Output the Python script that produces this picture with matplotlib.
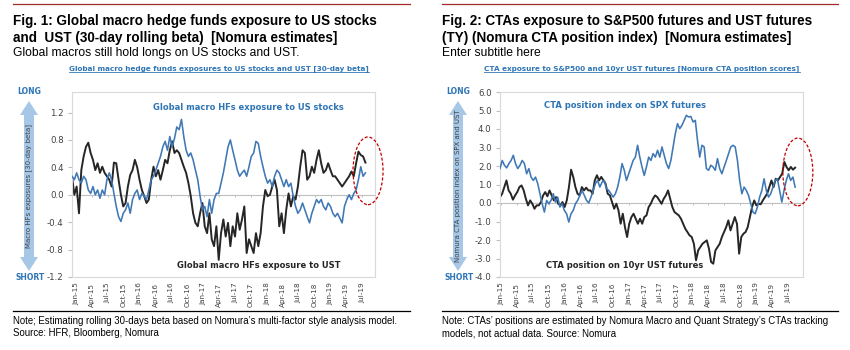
import matplotlib
matplotlib.use("Agg")
import matplotlib.pyplot as plt
import matplotlib.dates as mdates
from matplotlib.patches import Ellipse, Polygon
from matplotlib.lines import Line2D
import pandas as pd

W, H = 850, 350

# ---- data ----
left_stocks = [0.27, 0.22, 0.32, 0.22, 0.17, 0.27, 0.22, 0.07, 0.02, 0.12, 0.0, 0.07, -0.05, 0.07, 0.0,
               0.22, 0.32, 0.22, 0.02, -0.17, -0.32, -0.39, -0.27, -0.22, -0.12, -0.27, -0.07, 0.02, 0.07,
               -0.07, 0.02, -0.02, -0.07, 0.07, 0.22, 0.27, 0.36, 0.46, 0.56, 0.70, 0.78, 0.65, 0.85, 0.70,
               0.82, 0.99, 0.95, 1.10, 0.85, 0.65, 0.56, 0.61, 0.51, 0.36, 0.22, -0.02, -0.22, -0.17, -0.32,
               -0.07, -0.27, -0.07, 0.02, 0.02, 0.17, 0.32, 0.51, 0.70, 0.80, 0.65, 0.51, 0.36, 0.27, 0.32,
               0.36, 0.27, 0.41, 0.56, 0.61, 0.78, 0.75, 0.56, 0.41, 0.27, 0.17, 0.22, 0.12, 0.27, 0.36,
               0.32, 0.22, 0.12, 0.22, 0.12, 0.17, -0.02, -0.17, -0.27, -0.22, -0.12, -0.22, -0.32, -0.41,
               -0.27, -0.17, -0.07, -0.12, -0.07, -0.17, -0.22, -0.12, -0.17, -0.27, -0.32, -0.27, -0.34,
               -0.41, -0.17, -0.07, 0.0, -0.07, 0.02, 0.07, 0.22, 0.41, 0.27, 0.32]
left_ust = [0.27, 0.0, 0.12, -0.27, 0.36, 0.56, 0.70, 0.76, 0.61, 0.51, 0.36, 0.46, 0.32, 0.41, 0.32, 0.27,
            0.22, 0.12, 0.47, 0.46, 0.22, 0.0, -0.17, -0.12, 0.12, 0.29, 0.36, 0.51, 0.40, 0.22, 0.07, -0.02,
            -0.12, -0.07, 0.22, 0.41, 0.27, 0.36, 0.22, 0.36, 0.51, 0.46, 0.65, 0.78, 0.61, 0.65, 0.61, 0.51,
            0.41, 0.32, 0.17, -0.02, -0.27, -0.41, -0.46, -0.27, -0.12, -0.46, -0.56, -0.27, -0.65, -0.75,
            -0.46, -0.95, -0.56, -0.36, -0.61, -0.41, -0.75, -0.46, -0.61, -0.27, -0.51, -0.36, -0.17, -0.85,
            -0.65, -0.75, -0.85, -0.56, -0.75, -0.56, -0.17, 0.07, -0.02, 0.0, 0.12, 0.22, 0.07, -0.46, -0.27,
            -0.56, -0.22, 0.02, -0.17, -0.02, -0.07, 0.12, 0.41, 0.65, 0.61, 0.22, 0.27, 0.41, 0.32, 0.51,
            0.65, 0.46, 0.32, 0.36, 0.46, 0.36, 0.27, 0.27, 0.22, 0.17, 0.12, 0.17, 0.22, 0.27, 0.34, 0.27,
            0.46, 0.63, 0.58, 0.56, 0.47]
left_span = ("2014-12-08", "2019-07-19")

right_spx = [1.86, 2.3, 2.04, 1.9, 2.13, 2.3, 2.58, 2.13, 1.86, 2.04, 2.3, 2.13, 1.58, 1.86, 1.4, 1.22, 1.4,
             1.05, 0.5, -0.04, -0.49, 0.14, -0.04, 0.14, 0.5, 0.05, 0.32, -0.22, -0.04, -0.4, -0.58, -1.03,
             -0.58, -0.4, -0.04, 0.14, 0.41, 0.68, 0.41, 0.14, 0.0, 0.32, 0.68, 1.05, 1.22, 0.86, 1.13, 1.22,
             0.77, 0.68, 0.5, 0.32, 0.5, 0.86, 1.4, 2.13, 1.77, 1.22, 1.58, 1.95, 2.3, 2.48, 3.12, 2.48, 1.95,
             1.49, 1.95, 2.48, 2.3, 2.67, 2.48, 2.85, 2.48, 3.03, 2.57, 2.13, 1.86, 2.3, 3.03, 3.75, 4.29, 4.02,
             4.2, 4.47, 4.74, 4.65, 4.68, 4.38, 4.47, 3.39, 2.48, 3.12, 3.03, 1.86, 1.77, 2.04, 1.95, 1.77,
             2.4, 1.86, 1.58, 1.95, 2.3, 2.67, 3.03, 3.12, 3.03, 2.3, 1.22, 0.5, 0.86, 0.68, 0.41, -0.04,
             -0.49, -0.58, -0.22, 0.32, 0.68, 1.31, 0.68, 0.32, 0.5, 0.86, 1.22, 1.31, 0.68, 0.05, 0.68, 1.22,
             1.58, 1.22, 1.4, 0.86]
right_ust = [0.32, 0.5, 0.86, 1.22, 0.68, 0.5, 0.18, 0.41, 0.59, 0.86, 0.95, 0.68, 0.23, -0.13, 0.14, -0.04,
             -0.31, -0.13, -0.13, 0.05, 0.41, 0.59, 0.36, 0.68, 0.41, 0.14, 0.32, -0.04, -0.13, 0.05, -0.22,
             0.14, 0.86, 1.8, 1.41, 0.86, 0.5, 0.41, 0.86, 0.68, 0.83, 0.68, 0.68, 0.5, 1.22, 1.5, 1.22, 1.41,
             1.22, 1.05, 0.5, 0.41, 0.05, -0.31, -0.04, -0.4, -1.12, -0.58, -1.3, -1.84, -1.12, -0.76, -0.58,
             -0.85, -1.12, -0.85, -1.12, -0.76, -0.67, -0.22, -0.04, 0.23, 0.41, 0.32, 0.14, -0.04, 0.23, 0.41,
             0.68, 0.23, -0.22, -0.49, -0.58, -0.67, -0.85, -1.12, -1.39, -1.57, -1.75, -1.84, -2.2, -3.1,
             -2.56, -2.38, -2.2, -2.11, -2.02, -2.47, -3.19, -3.28, -2.56, -2.38, -2.2, -1.84, -1.57, -1.3,
             -0.94, -1.48, -1.12, -0.76, -1.12, -2.74, -1.84, -1.66, -1.57, -1.3, -0.76, -0.22, 0.14, -0.13,
             -0.04, -0.07, 0.14, 0.32, 0.5, 0.86, 1.22, 0.86, 1.31, 1.22, 1.41, 1.59, 2.22, 1.95, 1.77, 1.95,
             1.8, 1.91]
right_span = ("2014-12-26", "2019-08-10")

left_xlim = ("2014-12-08", "2019-09-12")
right_xlim = ("2014-12-26", "2019-09-24")

BLUE = "#3F78B5"
DARK = "#262626"
TXT_BLUE = "#2E75B6"
ARROW = "#A7C7E7"


def px(x, y):
    """pixel position (from top-left) -> figure fraction"""
    return x / W, 1 - y / H


def block_arrow(fig, cx, top, bottom):
    hl, hw, sw = 14, 9, 5
    pts = [(cx, top), (cx + hw, top + hl), (cx + sw, top + hl), (cx + sw, bottom - hl),
           (cx + hw, bottom - hl), (cx, bottom), (cx - hw, bottom - hl), (cx - sw, bottom - hl),
           (cx - sw, top + hl), (cx - hw, top + hl)]
    fig.add_artist(Polygon([px(*p) for p in pts], closed=True, transform=fig.transFigure,
                           facecolor=ARROW, edgecolor="none"))


def setup_axes(ax, xlim, ylim, yticks, fmt):
    ax.set_xlim(pd.Timestamp(xlim[0]), pd.Timestamp(xlim[1]))
    ax.set_ylim(*ylim)
    ax.set_yticks(yticks)
    ax.set_yticklabels([fmt.format(v) for v in yticks])
    ax.xaxis.set_major_locator(mdates.MonthLocator(bymonth=[1, 4, 7, 10]))
    ax.xaxis.set_major_formatter(mdates.DateFormatter("%b-%y"))
    ax.tick_params(axis="x", length=0, labelsize=5.2, labelcolor="#404040", rotation=90, pad=4)
    ax.tick_params(axis="y", length=3, color="#BFBFBF", labelsize=6.2, labelcolor="#404040", pad=3)
    for s in ax.spines.values():
        s.set_color("#D9D9D9")
        s.set_linewidth(0.8)
    ax.axhline(0, color="#BFBFBF", lw=0.8, zorder=1)
    qd = pd.date_range("2015-01-01", "2019-07-01", freq="QS")
    span = ylim[1] - ylim[0]
    ax.vlines(qd, 0, -span * 0.012, color="#BFBFBF", lw=0.7, zorder=1)


fig = plt.figure(figsize=(W / 100, H / 100), dpi=100)

axl = fig.add_axes([72 / W, 1 - 277 / H, 303 / W, 185 / H])
axr = fig.add_axes([500 / W, 1 - 277 / H, 303 / W, 185 / H])

# left chart
d_stk = pd.date_range(left_span[0], left_span[1], periods=len(left_stocks))
d_ust = pd.date_range(left_span[0], left_span[1], periods=len(left_ust))
axl.plot(d_stk, left_stocks, color=BLUE, lw=1.15, zorder=3)
axl.plot(d_ust, left_ust, color=DARK, lw=1.4, zorder=2)
setup_axes(axl, left_xlim, (-1.2, 1.5), [-1.2, -0.8, -0.4, 0.0, 0.4, 0.8, 1.2], "{:.1f}")

# right chart
d_spx = pd.date_range(right_span[0], right_span[1], periods=len(right_spx))
d_ust2 = pd.date_range(right_span[0], right_span[1], periods=len(right_ust))
axr.plot(d_spx, right_spx, color=BLUE, lw=1.15, zorder=3)
axr.plot(d_ust2, right_ust, color=DARK, lw=1.4, zorder=2)
setup_axes(axr, right_xlim, (-4, 6), list(range(-4, 7)), "{:.1f}")

# dashed red ellipses
for ax, cx, cy in [(axl, 0.977, 0.574), (axr, 0.983, 0.568)]:
    ax.add_patch(Ellipse((cx, cy), 0.099, 0.366, transform=ax.transAxes, fill=False,
                         edgecolor="#C00000", ls=(0, (2.5, 1.5)), lw=0.9, clip_on=False, zorder=5))

# series labels inside the charts
fig.text(*px(248, 108), "Global macro HFs exposure to US stocks", color=TXT_BLUE,
         fontsize=6.0, fontweight="bold", ha="center", va="center")
fig.text(*px(259, 265), "Global macro HFs exposure to UST", color=DARK,
         fontsize=6.0, fontweight="bold", ha="center", va="center")
fig.text(*px(625, 105), "CTA position index on SPX futures", color=TXT_BLUE,
         fontsize=6.0, fontweight="bold", ha="center", va="center")
fig.text(*px(625, 265), "CTA position on 10yr UST futures", color=DARK,
         fontsize=6.0, fontweight="bold", ha="center", va="center")

# LONG / SHORT arrows
for cx, label in [(29, "Macro HFs exposures [30-day beta]"),
                  (458, "Nomura CTA position index on SPX and UST")]:
    block_arrow(fig, cx, 101, 271)
    fig.text(*px(cx, 186), label, rotation=90, fontsize=5.0, color="#404040",
             ha="center", va="center")
    fig.text(*px(cx, 92), "LONG", color=TXT_BLUE, fontsize=5.5, fontweight="bold",
             ha="center", va="center")
    fig.text(*px(cx + 1.5, 277), "SHORT", color=TXT_BLUE, fontsize=5.5, fontweight="bold",
             ha="center", va="center")

# headers
TF = "Liberation Sans"
headers = [
    (13, 410, ["Fig. 1: Global macro hedge funds exposure to US stocks",
               "and  UST (30-day rolling beta)  [Nomura estimates]"],
     "Global macros still hold longs on US stocks and UST.",
     "Global macro hedge funds exposures to US stocks and UST [30-day beta]", 219,
     ["Note; Estimating rolling 30-days beta based on Nomura\u2019s multi-factor style analysis model.",
      "Source: HFR, Bloomberg, Nomura"]),
    (442, 838, ["Fig. 2: CTAs exposure to S&P500 futures and UST futures",
                "(TY) (Nomura CTA position index)  [Nomura estimates]"],
     "Enter subtitle here",
     "CTA exposure to S&P500 and 10yr UST futures [Nomura CTA position scores]", 642,
     ["Note: CTAs\u2019 positions are estimated by Nomura Macro and Quant Strategy\u2019s CTAs tracking",
      "models, not actual data. Source: Nomura"]),
]

chart_titles = []
for x0, x1, title, sub, ctitle, ccx, notes in headers:
    fig.add_artist(Line2D([x0 / W, x1 / W], [1 - 4 / H, 1 - 4 / H], color="#A52A2A", lw=0.9))
    fig.text(*px(x0, 21), title[0], fontsize=9.75, fontweight="bold", family=TF, va="center")
    fig.text(*px(x0, 38), title[1], fontsize=9.75, fontweight="bold", family=TF, va="center")
    fig.text(*px(x0, 53), sub, fontsize=8.7, family=TF, va="center")
    t = fig.text(*px(ccx, 69), ctitle, fontsize=5.25, fontweight="bold", color=TXT_BLUE,
                 ha="center", va="center")
    chart_titles.append(t)
    fig.add_artist(Line2D([x0 / W, x1 / W], [1 - 311 / H, 1 - 311 / H], color="black", lw=0.9))
    fig.text(*px(x0, 321), notes[0], fontsize=6.9, family=TF, va="center")
    fig.text(*px(x0, 333), notes[1], fontsize=6.9, family=TF, va="center")

# underline the blue chart titles
fig.canvas.draw()
r = fig.canvas.get_renderer()
for t in chart_titles:
    bb = t.get_window_extent(r)
    y = (bb.y0 + 0.5) / H
    fig.add_artist(Line2D([bb.x0 / W, bb.x1 / W], [y, y], color=TXT_BLUE, lw=0.6))

fig.savefig("out.png", dpi=100)
